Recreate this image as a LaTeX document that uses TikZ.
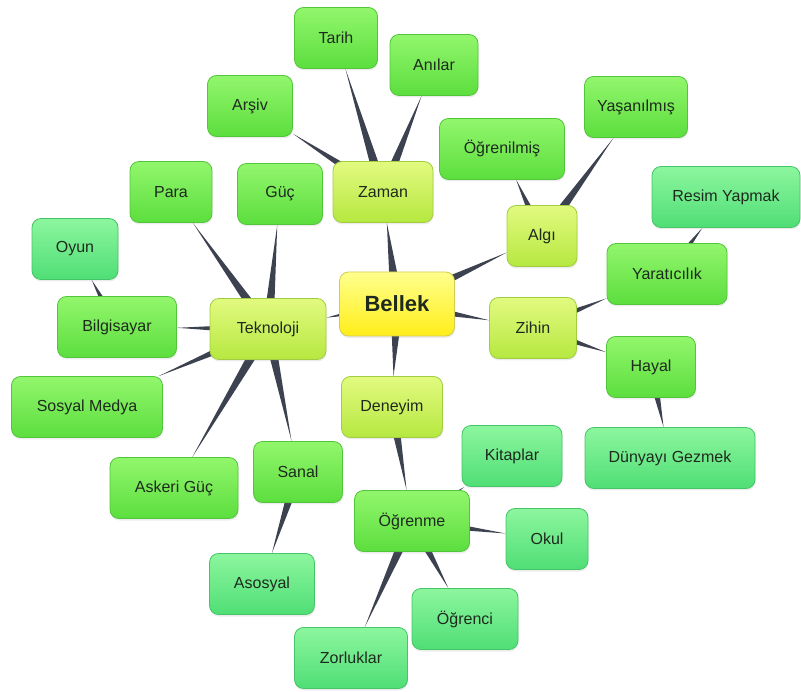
\documentclass[tikz,border=0pt]{standalone}
\usepackage{fontspec}
\setmainfont{Liberation Sans}
\usepackage{xcolor}
\usepackage{tikz}
\usetikzlibrary{calc,backgrounds,shadows}

\definecolor{spokegray}{HTML}{3D4250}
\definecolor{inktext}{HTML}{1E2A1E}

% tapered connector, wide at the parent, pointed at the child's border
\newcommand{\spoke}[3][5.5]{%
  \path (#2) -- (#3) coordinate[pos=1] (spoketip);
  \fill[spokegray] ($(#2)!#1pt!90:(#3)$) -- (spoketip) -- ($(#2)!#1pt!-90:(#3)$) -- cycle;}

\tikzset{
  mapbox/.style={rounded corners=9pt, line width=0.8pt, text=inktext, minimum height=61pt,
    font=\fontsize{16}{19}\selectfont,
    drop shadow={opacity=0.15, shadow xshift=0.5pt, shadow yshift=-2pt}},
  rootbox/.style={mapbox, top color=yellow!45!white, bottom color=yellow!85!orange!90!white, draw=yellow!75!black!80,
    font=\fontsize{22}{26}\selectfont\bfseries},
  topicbox/.style={mapbox, top color={rgb,255:red,226;green,250;blue,128}, bottom color={rgb,255:red,182;green,232;blue,64}, draw={rgb,255:red,160;green,206;blue,64}},
  leafbox/.style={mapbox, top color={rgb,255:red,146;green,246;blue,108}, bottom color={rgb,255:red,92;green,222;blue,62}, draw={rgb,255:red,82;green,198;blue,58}},
  subleafbox/.style={mapbox, top color={rgb,255:red,140;green,246;blue,158}, bottom color={rgb,255:red,80;green,222;blue,118}, draw={rgb,255:red,68;green,198;blue,104}},
}

\begin{document}
\begin{tikzpicture}[x=1pt, y=-1pt]
	\useasboundingbox (0,0) rectangle (801,692);

	\node[rootbox, minimum width=115pt, minimum height=64pt] (bellek) at (397,304) {Bellek};

	% Zaman
	\node[topicbox, minimum width=100pt] (zaman) at (383,192) {Zaman};
	\node[leafbox, minimum width=83pt] (tarih) at (336,38) {Tarih};
	\node[leafbox, minimum width=88pt] (anilar) at (434,65) {Anılar};
	\node[leafbox, minimum width=85pt] (arsiv) at (250,106) {Arşiv};

	% Algı
	\node[topicbox, minimum width=70pt] (algi) at (542,236) {Algı};
	\node[leafbox, minimum width=125pt] (ogrenilmis) at (502,149) {Öğrenilmiş};
	\node[leafbox, minimum width=103pt] (yasanilmis) at (636,107) {Yaşanılmış};

	% Zihin
	\node[topicbox, minimum width=87pt] (zihin) at (533,328) {Zihin};
	\node[leafbox, minimum width=120pt] (yaraticilik) at (667,274) {Yaratıcılık};
	\node[subleafbox, minimum width=148pt] (resim) at (726,197) {Resim Yapmak};
	\node[leafbox, minimum width=89pt] (hayal) at (651,367) {Hayal};
	\node[subleafbox, minimum width=170pt] (dunyayi) at (670,458) {Dünyayı Gezmek};

	% Deneyim
	\node[topicbox, minimum width=101pt] (deneyim) at (392,407) {Deneyim};
	\node[leafbox, minimum width=115pt] (ogrenme) at (412,521) {Öğrenme};
	\node[subleafbox, minimum width=100pt] (kitaplar) at (512,456) {Kitaplar};
	\node[subleafbox, minimum width=82pt] (okul) at (547,539) {Okul};
	\node[subleafbox, minimum width=106pt] (ogrenci) at (465,619) {Öğrenci};
	\node[subleafbox, minimum width=113pt] (zorluklar) at (351,658) {Zorluklar};

	% Teknoloji
	\node[topicbox, minimum width=116pt] (teknoloji) at (268,329) {Teknoloji};
	\node[leafbox, minimum width=82pt] (para) at (171,192) {Para};
	\node[leafbox, minimum width=85pt] (guc) at (280,194) {Güç};
	\node[leafbox, minimum width=119pt] (bilgisayar) at (117,327) {Bilgisayar};
	\node[subleafbox, minimum width=86pt] (oyun) at (75,249) {Oyun};
	\node[leafbox, minimum width=151pt] (sosyal) at (87,407) {Sosyal Medya};
	\node[leafbox, minimum width=128pt] (askeri) at (174,488) {Askeri Güç};
	\node[leafbox, minimum width=89pt] (sanal) at (298,472) {Sanal};
	\node[subleafbox, minimum width=105pt] (asosyal) at (262,584) {Asosyal};

	\begin{pgfonlayer}{background}
		\spoke[6.5]{bellek}{zaman}
		\spoke[6.5]{bellek}{algi}
		\spoke[6.5]{bellek}{zihin}
		\spoke[6.5]{bellek}{deneyim}
		\spoke[6.5]{bellek}{teknoloji}
		\spoke{zaman}{tarih}
		\spoke{zaman}{anilar}
		\spoke{zaman}{arsiv}
		\spoke{algi}{ogrenilmis}
		\spoke{algi}{yasanilmis}
		\spoke{zihin}{yaraticilik}
		\spoke{zihin}{hayal}
		\spoke{yaraticilik}{resim}
		\spoke{hayal}{dunyayi}
		\spoke{deneyim}{ogrenme}
		\spoke{ogrenme}{kitaplar}
		\spoke{ogrenme}{okul}
		\spoke{ogrenme}{ogrenci}
		\spoke{ogrenme}{zorluklar}
		\spoke{teknoloji}{para}
		\spoke{teknoloji}{guc}
		\spoke{teknoloji}{bilgisayar}
		\spoke{teknoloji}{sosyal}
		\spoke{teknoloji}{askeri}
		\spoke{teknoloji}{sanal}
		\spoke{bilgisayar}{oyun}
		\spoke{sanal}{asosyal}
	\end{pgfonlayer}
\end{tikzpicture}
\end{document}
